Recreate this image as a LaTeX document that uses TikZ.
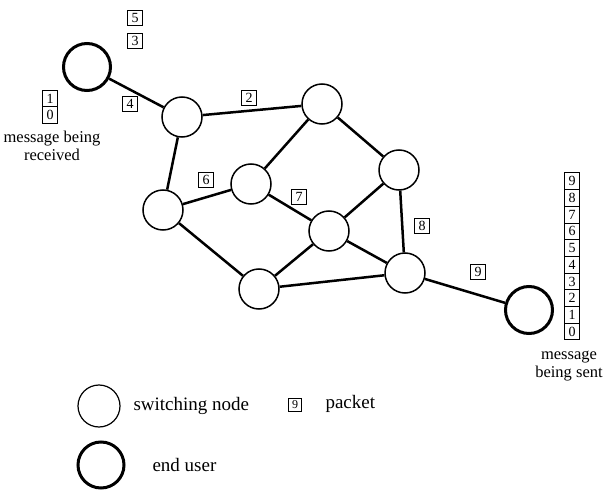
\documentclass[tikz,border=0pt]{standalone}
\usepackage{fontspec}
\setmainfont{Liberation Serif}
\begin{document}
\begin{tikzpicture}[x=1pt,y=-1pt,
	sw/.style={circle,draw,line width=1.5pt,minimum size=40pt,inner sep=0pt},
	user/.style={circle,draw,line width=3pt,minimum size=47pt,inner sep=0pt},
	pkt/.style={draw,line width=1pt,minimum width=15pt,minimum height=15pt,inner sep=0pt,font=\fontsize{14}{14}\selectfont},
	stk/.style={pkt,minimum height=16.7pt},
	lnk/.style={line width=2.5pt},
	lbl/.style={align=center,font=\fontsize{16.5}{17.5}\selectfont}]
	\useasboundingbox (0,0) rectangle (616,500);
	
	% end users
	\node[user] (u1) at (87,67) {};
	\node[user] (u2) at (529,310) {};
	
	% switching nodes
	\node[sw] (a) at (182,117) {};
	\node[sw] (b) at (322,104) {};
	\node[sw] (c) at (399,170) {};
	\node[sw] (d) at (251,184) {};
	\node[sw] (e) at (163,210) {};
	\node[sw] (f) at (329,231) {};
	\node[sw] (g) at (259,289) {};
	\node[sw] (h) at (405,273) {};
	
	\draw[lnk] (u1) -- (a);
	\draw[lnk] (a) -- (b);
	\draw[lnk] (a) -- (e);
	\draw[lnk] (b) -- (d);
	\draw[lnk] (b) -- (c);
	\draw[lnk] (d) -- (e);
	\draw[lnk] (d) -- (f);
	\draw[lnk] (c) -- (f);
	\draw[lnk] (c) -- (h);
	\draw[lnk] (e) -- (g);
	\draw[lnk] (g) -- (f);
	\draw[lnk] (g) -- (h);
	\draw[lnk] (f) -- (h);
	\draw[lnk] (h) -- (u2);
	
	% packets in transit
	\node[pkt] (p5) at (135,18) {5};
	\node[pkt] (p3) at (135,41) {3};
	\node[pkt] (p4) at (130,104) {4};
	\node[pkt] (p2) at (249,98) {2};
	\node[pkt] (p6) at (206,180) {6};
	\node[pkt] (p7) at (299,197) {7};
	\node[pkt] (p8) at (422,226) {8};
	\node[pkt] (p9) at (478,272) {9};
	
	% received
	\node[stk] (r1) at (50,98.5) {1};
	\node[stk] (r0) at (50,115.2) {0};
	\node[lbl] (rx) at (52,146) {message being\\received};
	
	% sent
	\foreach \i in {0,...,9}
		\node[stk] (s\i) at (572,331.6-\i*16.7) {\i};
	\node[lbl] (tx) at (569,366) {message\\being sent};
	
	% legend
	\node[sw,line width=1.2pt,minimum size=42pt] (ksw) at (99,406) {};
	\node[anchor=west,font=\fontsize{19}{20}\selectfont] (kswt) at (130,406) {switching node};
	\node[pkt,minimum size=13pt,font=\fontsize{12}{12}\selectfont] (kp) at (295,405) {9};
	\node[anchor=west,font=\fontsize{19}{20}\selectfont] (kpt) at (322,404) {packet};
	\node[user,minimum size=46pt] (ku) at (101,465) {};
	\node[anchor=west,font=\fontsize{19}{20}\selectfont] (kut) at (149,465) {end user};
	
\end{tikzpicture}
\end{document}
